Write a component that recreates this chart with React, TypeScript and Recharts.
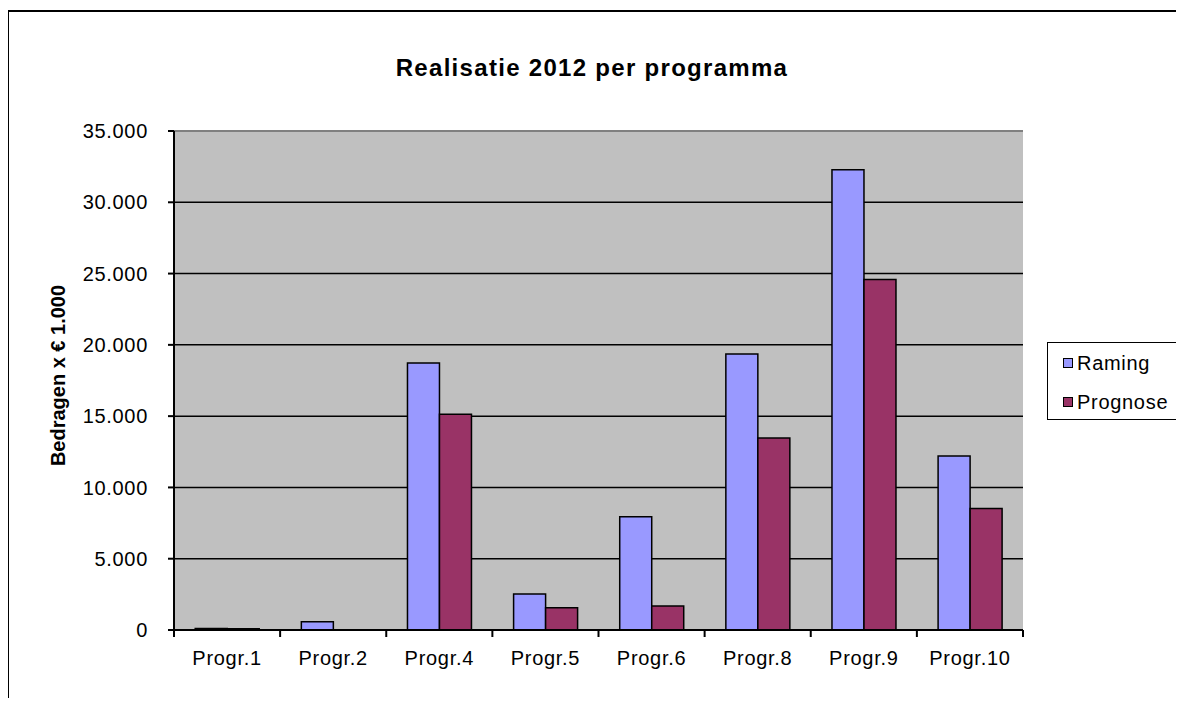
import {
  BarChart,
  Bar,
  XAxis,
  YAxis,
  CartesianGrid,
  ReferenceLine,
} from "recharts";

const programmas = [
  "Progr.1",
  "Progr.2",
  "Progr.4",
  "Progr.5",
  "Progr.6",
  "Progr.8",
  "Progr.9",
  "Progr.10",
];
const raming = [100, 580, 18720, 2520, 7950, 19350, 32280, 12200];
const prognose = [90, 0, 15130, 1560, 1680, 13460, 24590, 8530];
const yTicks = [0, 5000, 10000, 15000, 20000, 25000, 30000, 35000];
const seriesNames = ["Raming", "Prognose"];

const COLORS = ["#9999FF", "#993366"];
const FONT = "'Liberation Sans', Arial, sans-serif";
const FS = 20;
const LS = 0.7;

const W = 1168;
const H = 690;
const PLOT_LEFT = 166;
const PLOT_RIGHT = 1015;
const PLOT_TOP = 123;
const PLOT_BOTTOM = 622;
const X_AXIS_H = 40;

const data = programmas.map((name, i) => ({
  name,
  raming: raming[i],
  prognose: prognose[i],
}));

const fmt = (v: number) =>
  String(v).replace(/\B(?=(\d{3})+(?!\d))/g, ".");

function XTick(props: any) {
  const { x, y, payload, index } = props;
  const half = (PLOT_RIGHT - PLOT_LEFT) / programmas.length / 2;
  return (
    <g>
      <line x1={x - half} x2={x - half} y1={y - 7} y2={y} stroke="#000" strokeWidth={2} />
      {index === programmas.length - 1 && (
        <line x1={x + half} x2={x + half} y1={y - 7} y2={y} stroke="#000" strokeWidth={2} />
      )}
      <text
        x={x}
        y={y + 28}
        textAnchor="middle"
        fontSize={FS}
        letterSpacing={LS}
        fontFamily={FONT}
        fill="#000"
      >
        {payload.value}
      </text>
    </g>
  );
}

function YLabel(props: any) {
  const { viewBox } = props;
  const x = viewBox.x - 36;
  const y = viewBox.y + viewBox.height / 2 - 5;
  return (
    <text
      x={x}
      y={y}
      transform={`rotate(-90 ${x} ${y})`}
      textAnchor="middle"
      dominantBaseline="central"
      fontSize={FS}
      fontWeight="bold"
      fontFamily={FONT}
      fill="#000"
    >
      Bedragen x € 1.000
    </text>
  );
}

export default function App() {
  return (
    <div style={{ position: "relative", width: W, height: H, fontFamily: FONT }}>
      <div
        style={{
          position: "absolute",
          left: -1,
          top: 2,
          width: 1176,
          height: 694,
          borderLeft: "2px solid #000",
          borderTop: "2px solid #000",
          pointerEvents: "none",
        }}
      />
      <div
        style={{
          position: "absolute",
          left: 0,
          top: 46,
          width: W,
          textAlign: "center",
          fontSize: 24,
          fontWeight: "bold",
          letterSpacing: 1.3,
        }}
      >
        Realisatie 2012 per programma
      </div>

      <BarChart
        width={W}
        height={H}
        data={data}
        barCategoryGap="20%"
        barGap={0}
        margin={{
          top: PLOT_TOP,
          right: W - PLOT_RIGHT,
          left: PLOT_LEFT - 80,
          bottom: H - PLOT_BOTTOM - X_AXIS_H,
        }}
      >
        <CartesianGrid
          vertical={false}
          fill="#C0C0C0"
          stroke="#000"
          strokeWidth={1.5}
          horizontalValues={[5000, 10000, 15000, 20000, 25000, 30000]}
        />
        <XAxis
          dataKey="name"
          height={X_AXIS_H}
          tickLine={false}
          tickSize={7}
          tickMargin={0}
          axisLine={{ stroke: "#000", strokeWidth: 2 }}
          tick={<XTick />}
          interval={0}
        />
        <YAxis
          width={80}
          domain={[0, 35000]}
          ticks={yTicks}
          tickFormatter={fmt}
          tickSize={6}
          tickMargin={20}
          axisLine={{ stroke: "#000", strokeWidth: 2 }}
          tickLine={{ stroke: "#000", strokeWidth: 2 }}
          tick={{ fontSize: FS, fontFamily: FONT, fill: "#000", letterSpacing: LS }}
          label={<YLabel />}
        />
        <YAxis
          yAxisId="r"
          orientation="right"
          width={0}
          domain={[0, 35000]}
          tick={false}
          tickLine={false}
          axisLine={{ stroke: "#808080", strokeWidth: 2 }}
        />
        <ReferenceLine y={35000} stroke="#808080" strokeWidth={2} />
        <Bar
          dataKey="raming"
          name={seriesNames[0]}
          fill={COLORS[0]}
          stroke="#000"
          strokeWidth={1.5}
          isAnimationActive={false}
        />
        <Bar
          dataKey="prognose"
          name={seriesNames[1]}
          fill={COLORS[1]}
          stroke="#000"
          strokeWidth={1.5}
          isAnimationActive={false}
        />
      </BarChart>

      <div
        style={{
          position: "absolute",
          left: 1039,
          top: 334,
          width: 130,
          height: 78,
          border: "1.5px solid #000",
          boxSizing: "border-box",
          padding: "9px 0 0 15px",
          fontSize: FS,
          letterSpacing: LS,
        }}
      >
        {seriesNames.map((s, i) => (
          <div
            key={s}
            style={{ display: "flex", alignItems: "center", height: 22, marginBottom: 17 }}
          >
            <span
              style={{
                display: "inline-block",
                width: 8,
                height: 8,
                background: COLORS[i],
                border: "1.5px solid #000",
                marginRight: 4,
              }}
            />
            <span>{s}</span>
          </div>
        ))}
      </div>
    </div>
  );
}
